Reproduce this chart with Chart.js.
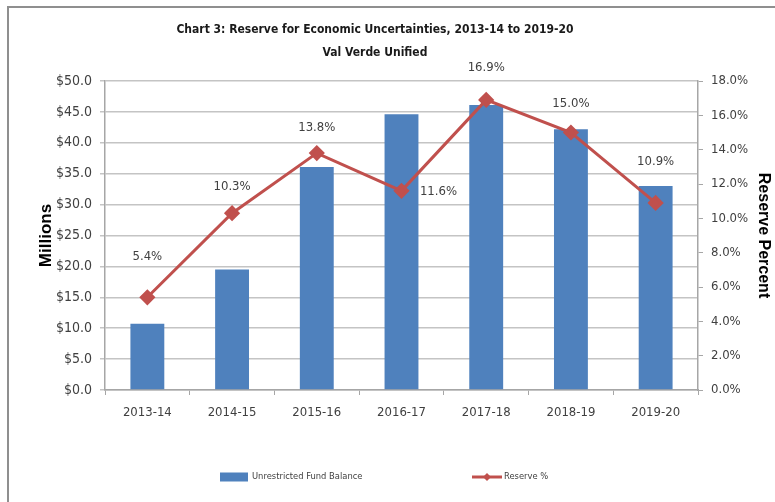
<!DOCTYPE html>
<html>
<head>
<meta charset="utf-8">
<script src="https://cdn.jsdelivr.net/npm/chart.js@4.4.1/dist/chart.umd.min.js"></script>
<style>
  html, body { margin: 0; padding: 0; background: #fff; }
  #wrap { width: 775px; height: 502px; }
</style>
</head>
<body>
<div id="wrap"><canvas id="canvas" width="775" height="502"></canvas></div>
<script>
// data
var years = ["2013-14", "2014-15", "2015-16", "2016-17", "2017-18", "2018-19", "2019-20"];
var fundBalance = [10.7, 19.5, 36.1, 44.6, 46.1, 42.2, 33.0];   // $ millions
var reservePct = [5.4, 10.3, 13.8, 11.6, 16.9, 15.0, 10.9];     // percent

var narrow = '"DejaVu Sans Condensed", "Liberation Sans Narrow", sans-serif';
var sans = '"Liberation Sans", Arial, sans-serif';
var blue = '#4F81BD';
var red = '#C0504D';
var grid = '#c4c4c4';
var axis = '#a6a6a6';
var text = '#404040';

// where each % label sits relative to its marker
var labelDx = [0, 0, 0, 37, 0, 0, 0];
var labelDy = [-41, -27, -25, 1, -32, -29, -41];

var extras = {
  id: 'extras',
  beforeDraw: function(chart) {
    var ctx = chart.ctx;
    ctx.save();
    ctx.fillStyle = '#fff';
    ctx.fillRect(0, 0, chart.width, chart.height);
    ctx.strokeStyle = '#8f8f8f';
    ctx.lineWidth = 2;
    ctx.beginPath();
    ctx.moveTo(8, chart.height);
    ctx.lineTo(8, 7);
    ctx.lineTo(chart.width, 7);
    ctx.stroke();
    ctx.restore();
  },
  afterDatasetsDraw: function(chart) {
    var ctx = chart.ctx;
    var meta = chart.getDatasetMeta(1);
    ctx.save();
    ctx.font = '13px ' + narrow;
    ctx.fillStyle = text;
    ctx.textAlign = 'center';
    ctx.textBaseline = 'middle';
    meta.data.forEach(function(pt, i) {
      ctx.fillText(reservePct[i].toFixed(1) + '%', pt.x + labelDx[i], pt.y + labelDy[i]);
    });
    ctx.restore();
  },
  afterDraw: function(chart) {
    var ctx = chart.ctx;
    var ds = chart.data.datasets;
    var y = 477;
    ctx.save();
    ctx.font = '9.3px ' + narrow;
    ctx.textBaseline = 'middle';
    // bar swatch
    ctx.fillStyle = blue;
    ctx.fillRect(220, y - 4.5, 28, 9);
    ctx.fillStyle = text;
    ctx.fillText(ds[0].label, 252, y);
    // line swatch with its marker
    ctx.strokeStyle = red;
    ctx.lineWidth = 3;
    ctx.beginPath();
    ctx.moveTo(472, y);
    ctx.lineTo(502, y);
    ctx.stroke();
    ctx.fillStyle = red;
    ctx.beginPath();
    ctx.moveTo(487, y - 4);
    ctx.lineTo(491, y);
    ctx.lineTo(487, y + 4);
    ctx.lineTo(483, y);
    ctx.closePath();
    ctx.fill();
    ctx.fillStyle = text;
    ctx.fillText(ds[1].label, 504, y);
    ctx.restore();
  }
};

var ctx = document.getElementById("canvas");
var myChart = new Chart(ctx, {
  type: 'bar',
  data: {
    labels: years,
    datasets: [
      {
        type: 'bar',
        label: 'Unrestricted Fund Balance',
        data: fundBalance,
        backgroundColor: blue,
        yAxisID: 'y',
        categoryPercentage: 0.8,
        barPercentage: 0.5,
        order: 1
      },
      {
        type: 'line',
        label: 'Reserve %',
        data: reservePct,
        borderColor: red,
        backgroundColor: red,
        borderWidth: 3,
        pointStyle: 'rectRot',
        pointRadius: 6,
        pointBackgroundColor: red,
        pointBorderColor: red,
        tension: 0,
        yAxisID: 'y1',
        order: 0
      }
    ]
  },
  options: {
    responsive: false,
    animation: false,
    // left is negative so the title centres where the original one does
    layout: { padding: { left: -15, right: 10, top: 0, bottom: 0 } },
    plugins: {
      legend: { display: false },
      tooltip: { enabled: false },
      title: {
        display: true,
        text: ['Chart 3: Reserve for Economic Uncertainties, 2013-14 to 2019-20', 'Val Verde Unified'],
        color: '#1a1a1a',
        font: { family: narrow, size: 12, weight: 'bold', lineHeight: 1.9 },
        padding: { top: 18.6, bottom: 16.8 }
      }
    },
    scales: {
      x: {
        grid: { offset: true, drawOnChartArea: false, drawTicks: true, tickLength: 5, color: axis },
        border: { color: axis, width: 1.5 },
        ticks: { color: text, padding: 10, font: { family: narrow, size: 13 } },
        afterFit: function(scale) { scale.height = 112; }
      },
      y: {
        position: 'left',
        min: 0,
        max: 50,
        ticks: {
          stepSize: 5,
          color: text,
          padding: 8,
          font: { family: narrow, size: 14 },
          callback: function(v) { return '$' + v.toFixed(1); }
        },
        grid: { color: grid, lineWidth: 1.5, tickLength: 5 },
        border: { color: axis, width: 1.5 },
        title: {
          display: true,
          text: 'Millions',
          color: '#000',
          font: { family: sans, size: 17, weight: 'bold' },
          padding: { top: 51.5, bottom: 0 }
        },
        afterFit: function(scale) { scale.width = 120; }
      },
      y1: {
        position: 'right',
        min: 0,
        max: 18,
        ticks: {
          stepSize: 2,
          color: text,
          padding: 8,
          font: { family: narrow, size: 13 },
          callback: function(v) { return v.toFixed(1) + '%'; }
        },
        grid: { drawOnChartArea: false, color: axis, tickLength: 5 },
        border: { color: axis, width: 1.5 },
        title: {
          display: true,
          text: 'Reserve Percent',
          color: '#000',
          font: { family: sans, size: 16, weight: 'bold' },
          padding: { top: -7.6, bottom: 0 }
        },
        afterFit: function(scale) { scale.width = 67; }
      }
    }
  },
  plugins: [extras]
});
</script>
</body>
</html>
